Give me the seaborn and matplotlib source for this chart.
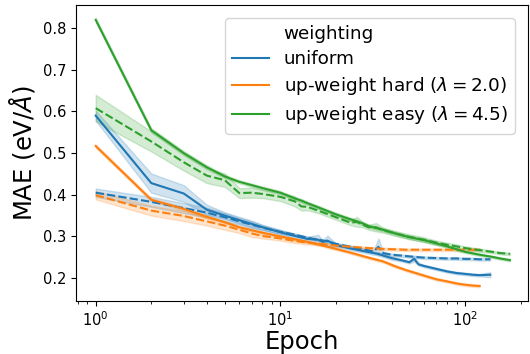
import numpy as np
import pandas as pd
import matplotlib
matplotlib.use("Agg")
import matplotlib.pyplot as plt
import seaborn as sns

# ---------------- data ----------------
weightings = ["uniform",
              r"up-weight hard ($\lambda = 2.0$)",
              r"up-weight easy ($\lambda = 4.5$)"]
splits = ["train", "val"]

uniform_epochs = [1, 2, 3, 4, 5, 6, 7, 8, 10, 12, 14, 16, 17, 18, 20, 24, 28, 32, 34, 36,
                  40, 45, 50, 53, 56, 60, 70, 80, 90, 100, 110, 120, 137]
uniform_train = [0.590, 0.428, 0.403, 0.364, 0.350, 0.339, 0.330, 0.322, 0.310, 0.301,
                 0.294, 0.292, 0.287, 0.290, 0.279, 0.271, 0.265, 0.260, 0.258, 0.254,
                 0.248, 0.243, 0.238, 0.246, 0.233, 0.229, 0.222, 0.216, 0.212, 0.210,
                 0.208, 0.207, 0.208]
uniform_train_ci = [0.012, 0.023, 0.020, 0.012, 0.008, 0.008, 0.008, 0.006, 0.005, 0.005,
                    0.005, 0.012, 0.004, 0.012, 0.004, 0.004, 0.004, 0.004, 0.004, 0.004,
                    0.004, 0.003, 0.003, 0.006, 0.003, 0.003, 0.003, 0.003, 0.003, 0.003,
                    0.003, 0.003, 0.006]
uniform_val = [0.405, 0.383, 0.368, 0.357, 0.346, 0.336, 0.328, 0.321, 0.311, 0.304,
               0.297, 0.292, 0.290, 0.288, 0.282, 0.275, 0.269, 0.264, 0.275, 0.260,
               0.256, 0.254, 0.252, 0.251, 0.250, 0.249, 0.248, 0.247, 0.247, 0.246,
               0.246, 0.245, 0.245]
uniform_val_ci = [0.010, 0.012, 0.012, 0.012, 0.010, 0.008, 0.008, 0.006, 0.005, 0.003,
                  0.003, 0.003, 0.003, 0.003, 0.003, 0.003, 0.003, 0.003, 0.020, 0.003,
                  0.003, 0.003, 0.003, 0.003, 0.003, 0.003, 0.003, 0.003, 0.003, 0.003,
                  0.003, 0.003, 0.003]

hard_epochs = [1, 2, 3, 4, 5, 6, 7, 8, 10, 12, 14, 16, 20, 24, 30, 36, 42, 48, 55, 62,
               70, 80, 90, 100, 110, 120]
hard_train = [0.517, 0.388, 0.366, 0.347, 0.334, 0.322, 0.315, 0.309, 0.300, 0.293,
              0.287, 0.281, 0.270, 0.261, 0.249, 0.240, 0.228, 0.219, 0.211, 0.204,
              0.197, 0.192, 0.187, 0.184, 0.182, 0.181]
hard_train_ci = [0.004, 0.004, 0.004, 0.004, 0.003, 0.003, 0.003, 0.003, 0.003, 0.003,
                 0.003, 0.003, 0.003, 0.003, 0.003, 0.003, 0.003, 0.003, 0.003, 0.003,
                 0.003, 0.003, 0.003, 0.003, 0.003, 0.003]
hard_val = [0.399, 0.362, 0.349, 0.336, 0.326, 0.316, 0.307, 0.301, 0.295, 0.289,
            0.285, 0.283, 0.278, 0.275, 0.272, 0.270, 0.269, 0.268, 0.268, 0.268,
            0.268, 0.268, 0.268, 0.268, 0.268, 0.269]
hard_val_ci = [0.010, 0.012, 0.012, 0.010, 0.010, 0.008, 0.008, 0.006, 0.005, 0.005,
               0.004, 0.004, 0.003, 0.003, 0.003, 0.003, 0.003, 0.003, 0.003, 0.003,
               0.003, 0.003, 0.003, 0.003, 0.003, 0.003]

easy_epochs = [1, 2, 3, 4, 5, 6, 7, 8, 10, 12, 13, 14, 16, 20, 24, 26, 28, 30, 33, 36,
               42, 50, 60, 70, 80, 90, 100, 120, 140, 155, 175]
easy_train = [0.820, 0.555, 0.500, 0.466, 0.444, 0.431, 0.423, 0.416, 0.405, 0.391,
              0.386, 0.380, 0.370, 0.353, 0.341, 0.336, 0.331, 0.325, 0.320, 0.316,
              0.307, 0.298, 0.291, 0.283, 0.276, 0.269, 0.263, 0.256, 0.251, 0.247,
              0.243]
easy_train_ci = [0.005, 0.005, 0.005, 0.005, 0.004, 0.004, 0.004, 0.004, 0.004, 0.004,
                 0.004, 0.004, 0.004, 0.004, 0.004, 0.004, 0.004, 0.004, 0.004, 0.004,
                 0.004, 0.004, 0.004, 0.004, 0.004, 0.004, 0.003, 0.003, 0.003, 0.003,
                 0.003]
easy_val = [0.608, 0.528, 0.478, 0.446, 0.435, 0.404, 0.405, 0.402, 0.395, 0.384,
            0.372, 0.371, 0.362, 0.346, 0.333, 0.335, 0.328, 0.322, 0.322, 0.315,
            0.307, 0.299, 0.292, 0.285, 0.280, 0.276, 0.272, 0.267, 0.263, 0.260,
            0.258]
easy_val_ci = [0.032, 0.024, 0.020, 0.018, 0.016, 0.012, 0.012, 0.010, 0.010, 0.012,
               0.010, 0.008, 0.006, 0.006, 0.006, 0.012, 0.006, 0.006, 0.010, 0.006,
               0.006, 0.006, 0.006, 0.005, 0.005, 0.005, 0.004, 0.004, 0.003, 0.003,
               0.003]

# ---------------- build long table (band = mean +/- ci) ----------------
series = [
    (weightings[0], uniform_epochs, [(uniform_train, uniform_train_ci), (uniform_val, uniform_val_ci)]),
    (weightings[1], hard_epochs, [(hard_train, hard_train_ci), (hard_val, hard_val_ci)]),
    (weightings[2], easy_epochs, [(easy_train, easy_train_ci), (easy_val, easy_val_ci)]),
]
rows = []
for name, eps, pairs in series:
    for split, (means, cis) in zip(splits, pairs):
        for e, m, c in zip(eps, means, cis):
            for d in (-c, 0.0, c):
                rows.append({"epoch": e, "mae": m + d, "weighting": name, "split": split})
df = pd.DataFrame(rows)

# ---------------- plot ----------------
fig = plt.figure(figsize=(5.3, 3.54), dpi=100)
ax = fig.add_axes([0.143, 0.151, 0.853, 0.834])
sns.lineplot(data=df, x="epoch", y="mae", hue="weighting", style="split",
             hue_order=weightings, style_order=splits,
             errorbar=("pi", 100), ax=ax)
ax.set_xscale("log")
ax.set_xlim(0.78, 219)
ax.set_ylim(0.146, 0.855)
ax.set_xlabel("Epoch", fontsize=17.5, labelpad=1)
ax.set_ylabel(r"MAE (eV/$\AA$)", fontsize=17.5)
ax.tick_params(axis="both", which="major", labelsize=10.5)

handles, labels = ax.get_legend_handles_labels()
ax.legend(handles[:4], labels[:4], loc="upper right", fontsize=13.2,
          borderaxespad=0.7, labelspacing=0.38)

fig.savefig("out.png", dpi=100)
